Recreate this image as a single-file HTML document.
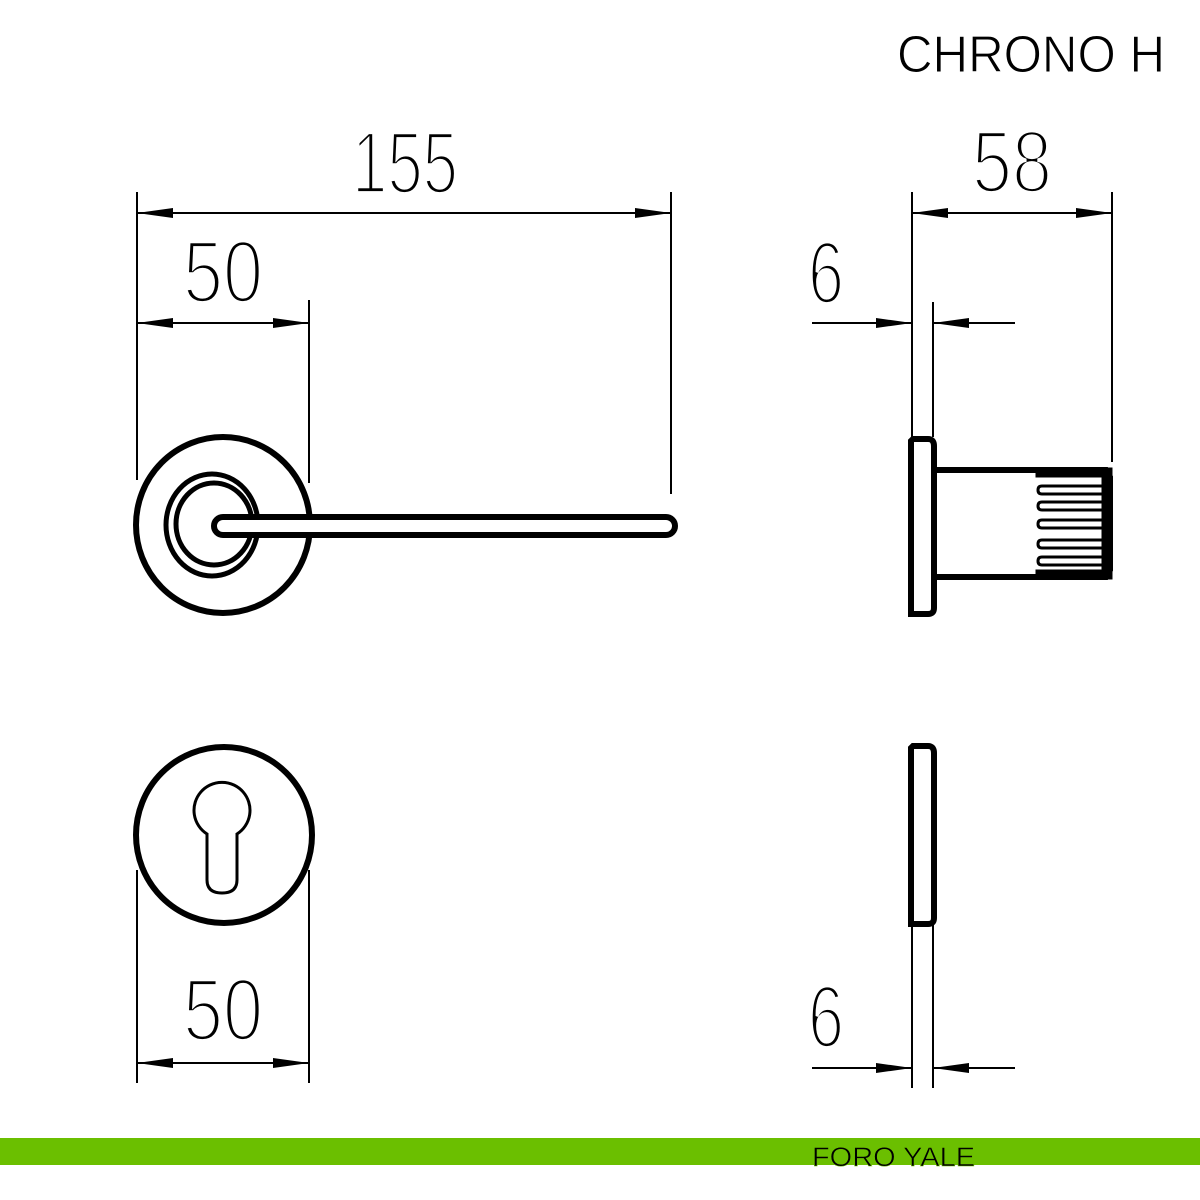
<!DOCTYPE html>
<html><head><style>
html,body{margin:0;padding:0;background:#fff;}
svg{display:block}
</style></head><body>
<svg width="1200" height="1200" viewBox="0 0 1200 1200" xmlns="http://www.w3.org/2000/svg">
<defs>
<marker id="a" viewBox="0 0 36 10" refX="36" refY="5" markerWidth="36" markerHeight="10" markerUnits="userSpaceOnUse" orient="auto"><path d="M0,0 L36,5 L0,10 Z" fill="#000"/></marker>
</defs>
<text x="1165" y="72" font-size="52" text-anchor="end" font-family="'Liberation Sans',sans-serif" textLength="268" lengthAdjust="spacingAndGlyphs" fill="#000" stroke="#fff" stroke-width="1">CHRONO H</text>
<g font-family="'Liberation Sans Narrow','Liberation Sans',sans-serif" fill="#000" stroke="#fff" stroke-width="3.8">
<text x="352" y="193" font-size="88" textLength="106" lengthAdjust="spacingAndGlyphs">155</text>
<text x="183" y="302" font-size="88" textLength="80" lengthAdjust="spacingAndGlyphs">50</text>
<text x="972" y="192" font-size="88" textLength="80" lengthAdjust="spacingAndGlyphs">58</text>
<text x="808" y="303" font-size="88" textLength="36" lengthAdjust="spacingAndGlyphs">6</text>
<text x="183" y="1040" font-size="88" textLength="80" lengthAdjust="spacingAndGlyphs">50</text>
<text x="808" y="1047" font-size="88" textLength="36" lengthAdjust="spacingAndGlyphs">6</text>
</g>
<g stroke="#000" stroke-width="2" fill="none">
<line x1="137" y1="192" x2="137" y2="480"/>
<line x1="671" y1="192" x2="671" y2="494"/>
<line x1="137" y1="213" x2="671" y2="213"/>
<line x1="200" y1="213" x2="137" y2="213" marker-end="url(#a)"/>
<line x1="600" y1="213" x2="671" y2="213" marker-end="url(#a)"/>
<line x1="309" y1="300" x2="309" y2="483"/>
<line x1="137" y1="323" x2="309" y2="323"/>
<line x1="200" y1="323" x2="137" y2="323" marker-end="url(#a)"/>
<line x1="250" y1="323" x2="309" y2="323" marker-end="url(#a)"/>
<line x1="912" y1="192" x2="912" y2="437"/>
<line x1="1112" y1="192" x2="1112" y2="462"/>
<line x1="912" y1="213" x2="1112" y2="213"/>
<line x1="980" y1="213" x2="912" y2="213" marker-end="url(#a)"/>
<line x1="1050" y1="213" x2="1112" y2="213" marker-end="url(#a)"/>
<line x1="933" y1="302" x2="933" y2="437"/>
<line x1="812" y1="323" x2="912" y2="323" marker-end="url(#a)"/>
<line x1="1015" y1="323" x2="933" y2="323" marker-end="url(#a)"/>
<line x1="137" y1="870" x2="137" y2="1083"/>
<line x1="309" y1="870" x2="309" y2="1083"/>
<line x1="137" y1="1063" x2="309" y2="1063"/>
<line x1="200" y1="1063" x2="137" y2="1063" marker-end="url(#a)"/>
<line x1="250" y1="1063" x2="309" y2="1063" marker-end="url(#a)"/>
<line x1="912" y1="925" x2="912" y2="1088"/>
<line x1="933" y1="925" x2="933" y2="1088"/>
<line x1="812" y1="1068" x2="912" y2="1068" marker-end="url(#a)"/>
<line x1="1015" y1="1068" x2="933" y2="1068" marker-end="url(#a)"/>
</g>
<g stroke="#000" stroke-width="6" fill="none">
<ellipse cx="223" cy="525" rx="87" ry="88"/>
<ellipse cx="212" cy="525" rx="46" ry="51" stroke-width="5"/>
<ellipse cx="214" cy="524" rx="38" ry="41" stroke-width="5"/>
<rect x="214" y="517" width="461" height="18" rx="9" fill="#fff"/>
<path d="M913,439 H928 Q934,439 934,446 V608 Q934,614 928,614 H911 V441 Z" />
<path d="M934,470 H1106 L1110,477 V570 L1106,577 H934" />
<circle cx="224" cy="835" r="88"/>
<path d="M913,746 H928 Q934,746 934,753 V918 Q934,924 928,924 H911 V748 Z"/>
</g>
<g stroke="#000" stroke-width="5" fill="#000">
<rect x="1038" y="470" width="72" height="5"/>
<rect x="1038" y="572" width="72" height="5"/>
<rect x="1104" y="472" width="6" height="103"/>
</g>
<g stroke="#000" stroke-width="3" fill="none">
<path d="M1109,486 H1042 Q1038,486 1038,490 Q1038,494 1042,494 H1109"/>
<path d="M1109,502 H1042 Q1038,502 1038,506 Q1038,510 1042,510 H1109"/>
<path d="M1109,520 H1042 Q1038,520 1038,524 Q1038,528 1042,528 H1109"/>
<path d="M1109,540 H1042 Q1038,540 1038,544 Q1038,548 1042,548 H1109"/>
<path d="M1109,557 H1042 Q1038,557 1038,561 Q1038,565 1042,565 H1109"/>
<path d="M207,834 A28,28 0 1 1 237,834 V880 Q237,893 222,893 Q207,893 207,880 Z"/>
</g>
<rect x="0" y="1138" width="1200" height="27" fill="#6bbf00"/>
<text x="812" y="1166" font-size="27" font-family="'Liberation Sans',sans-serif" fill="#000" stroke="#6bbf00" stroke-width="0.6" textLength="163" lengthAdjust="spacingAndGlyphs">FORO YALE</text>
</svg>
</body></html>
